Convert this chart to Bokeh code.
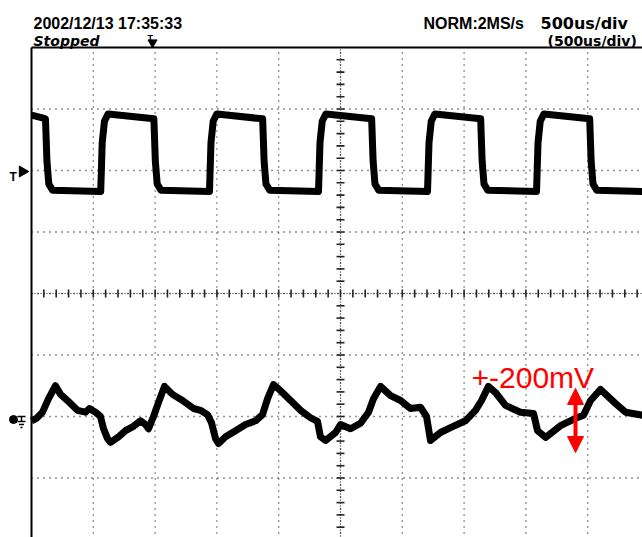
from bokeh.plotting import figure
from bokeh.models import Range1d, Label, Arrow, NormalHead
from bokeh.embed import file_html
from bokeh.resources import INLINE
import numpy as np

# ---------------- data (time in microseconds, level in screen divisions) -------------
ch1_t = [0, 80, 113, 125, 140, 170, 560, 572, 590, 620,
         990, 1002, 1017, 1047, 1440, 1452, 1470, 1500,
         1870, 1882, 1897, 1927, 2322, 2334, 2352, 2382,
         2752, 2764, 2779, 2809, 3204, 3216, 3234, 3264,
         3634, 3646, 3661, 3691, 4086, 4098, 4116, 4146,
         4516, 4528, 4543, 4573, 4944]
ch1_v = [2.90, 2.86, 2.84, 2.15, 1.78, 1.68, 1.66, 2.45, 2.80, 2.92,
         2.84, 2.15, 1.78, 1.68, 1.66, 2.45, 2.80, 2.92,
         2.84, 2.15, 1.78, 1.68, 1.66, 2.45, 2.80, 2.92,
         2.84, 2.15, 1.78, 1.68, 1.66, 2.45, 2.80, 2.92,
         2.84, 2.15, 1.78, 1.68, 1.66, 2.45, 2.80, 2.92,
         2.84, 2.15, 1.78, 1.68, 1.66]

ch2_t = [0, 40, 89, 138, 194, 235, 291, 372, 437, 469, 518, 558, 583, 615, 639,
         704, 761, 825, 882, 922, 947, 987, 1028, 1076, 1141, 1222, 1311, 1367,
         1424, 1456, 1489, 1513, 1570, 1651, 1732, 1813, 1869, 1910, 1958, 2015,
         2096, 2177, 2257, 2314, 2338, 2379, 2460, 2500, 2581, 2662, 2727, 2767,
         2824, 2905, 2986, 3066, 3147, 3196, 3228, 3309, 3390, 3511, 3592, 3641,
         3697, 3754, 3835, 3956, 4062, 4094, 4159, 4280, 4402, 4466, 4523, 4604,
         4726, 4806, 4944]
ch2_v = [-2.07, -2.03, -1.93, -1.71, -1.50, -1.64, -1.74, -1.90, -1.93, -1.87, -1.93, -2.00, -2.20, -2.36, -2.42,
         -2.33, -2.23, -2.16, -2.07, -2.13, -2.20, -2.00, -1.77, -1.51, -1.64, -1.74, -1.87, -1.90,
         -1.97, -2.10, -2.36, -2.44, -2.33, -2.23, -2.13, -2.07, -1.97, -1.71, -1.48, -1.58,
         -1.74, -1.90, -2.02, -2.08, -2.33, -2.39, -2.26, -2.13, -2.20, -2.11, -1.93, -1.71,
         -1.51, -1.66, -1.74, -1.87, -1.85, -2.00, -2.39, -2.26, -2.18, -2.07, -1.90, -1.74,
         -1.51, -1.61, -1.82, -1.93, -1.95, -2.23, -2.34, -2.15, -2.03, -1.98, -1.74, -1.56,
         -1.79, -1.93, -1.98]

header_date = "2002/12/13  17:35:33"
header_state = "Stopped"
header_rate = "NORM:2MS/s"
header_tdiv = "500us/div"
header_tdiv2 = "(500us/div)"
note_text = "+-200mV"

time_per_div = 500
n_xdiv = 10
n_ydiv = 8

# ---------------- screen geometry ----------------
W, H = 642, 537
left_px, center_y_px = 31, 293
px_x = time_per_div / 61.8      # us per pixel
px_y = 1 / 61.5                 # div per pixel

def tx(px):
    return (px - left_px) * px_x

def vy(py):
    return (center_y_px - py) * px_y

p = figure(width=W, height=H, output_backend="svg", toolbar_location=None,
           x_range=Range1d(tx(0), tx(W)), y_range=Range1d(vy(H), vy(0)),
           min_border=0)
p.axis.visible = False
p.grid.visible = False
p.outline_line_color = None
p.background_fill_color = "white"
p.border_fill_color = "white"

t_end = tx(W)
grid_top = n_ydiv / 2
grid_bot = -n_ydiv / 2
gc = "#222222"

# dotted grid
xs = [k * time_per_div for k in range(1, n_xdiv)]
p.segment(x0=xs, y0=[grid_bot] * len(xs), x1=xs, y1=[grid_top] * len(xs),
          line_color=gc, line_width=1.3, line_dash="1 5")
ys = [k for k in range(-3, 4)]
p.segment(x0=[0] * len(ys), y0=ys, x1=[t_end] * len(ys), y1=ys,
          line_color=gc, line_width=1.3, line_dash="1 5")

# center-line minor ticks
cx = n_xdiv / 2 * time_per_div
mt = [k * time_per_div / 5 for k in range(1, n_xdiv * 5)]
p.segment(x0=mt, y0=[-4 * px_y] * len(mt), x1=mt, y1=[4 * px_y] * len(mt),
          line_color=gc, line_width=1.6)
mv = [k / 5 for k in range(-19, 20) if k != 0]
p.segment(x0=[cx - 4 * px_x] * len(mv), y0=mv, x1=[cx + 4 * px_x] * len(mv), y1=mv,
          line_color=gc, line_width=1.6)
p.segment(x0=[cx], y0=[grid_bot], x1=[cx], y1=[grid_top], line_color=gc,
          line_width=1.2, line_dash="1 2")
p.segment(x0=[0], y0=[0], x1=[t_end], y1=[0], line_color=gc,
          line_width=1.2, line_dash="1 2")

# borders
p.segment(x0=[0], y0=[grid_bot], x1=[0], y1=[grid_top], line_color="black", line_width=2)
p.segment(x0=[0], y0=[grid_top], x1=[t_end], y1=[grid_top], line_color="black", line_width=2)

# traces
p.line(ch1_t, ch1_v, line_color="black", line_width=7, line_join="round")
p.line(ch2_t, ch2_v, line_color="black", line_width=7, line_join="round")

# header texts
def lab(text, xpx, ypx, size, font="Liberation Sans", style="bold", color="black", align="left"):
    p.add_layout(Label(x=tx(xpx), y=vy(ypx), text=text, text_font=font,
                       text_font_size=f"{size}px", text_font_style=style,
                       text_color=color, text_align=align, text_baseline="alphabetic"))

lab(header_date, 33, 23, 16)
lab(header_state, 33, 40, 14, font="DejaVu Sans", style="bold italic")
lab(header_rate, 423, 23, 16)
lab(header_tdiv, 540, 23, 16, font="DejaVu Sans")
lab(header_tdiv2, 547, 40, 14, font="DejaVu Sans")

# trigger position marker (top)
lab("T", 147, 37, 9)
p.scatter([tx(152)], [vy(42)], marker="inverted_triangle", size=9, color="black")

# ch1 trigger level marker (left)
lab("T", 9, 176, 12)
p.scatter([tx(22)], [vy(171)], marker="triangle", angle=-np.pi / 2, size=11, color="black")

# ch2 ground marker (left)
p.scatter([tx(13)], [vy(419)], marker="circle", size=8, color="black")
p.segment(x0=[tx(17), tx(21), tx(17), tx(18.5), tx(20)],
          y0=[vy(416), vy(416), vy(421), vy(424), vy(427)],
          x1=[tx(25), tx(21), tx(25), tx(23.5), tx(22)],
          y1=[vy(416), vy(421), vy(421), vy(424), vy(427)],
          line_color="black", line_width=1.5)

# red annotation
lab(note_text, 471, 377, 30, style="normal", color="red")
p.add_layout(Arrow(start=NormalHead(size=16, fill_color="red", line_color="red"),
                   end=NormalHead(size=16, fill_color="red", line_color="red"),
                   x_start=tx(575), y_start=vy(388), x_end=tx(575), y_end=vy(452),
                   line_color="red", line_width=4))

open("out.html", "w").write(file_html(p, INLINE))
